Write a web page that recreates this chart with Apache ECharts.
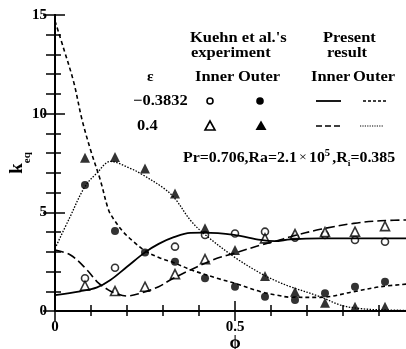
<!DOCTYPE html>
<html><head><meta charset="utf-8">
<script src="https://cdn.jsdelivr.net/npm/echarts@6/dist/echarts.min.js"></script>
<style>html,body{margin:0;padding:0;background:#fff}#c{width:406px;height:349px}</style>
</head><body><div id="c"></div>
<script>
// Experimental positions (phi)
const phiExp = [0.0833, 0.1667, 0.25, 0.3333, 0.4167, 0.5, 0.5833, 0.6667, 0.75, 0.8333, 0.9167];
// Kuehn et al. experiment
const expInnerNeg = [1.66, 2.19, null, 3.26, 3.85, 3.93, 4.02, 3.72, 3.85, 3.6, 3.51];   // eps=-0.3832 inner (open circle)
const expOuterNeg = [6.38, 4.05, 2.97, 2.5, 1.66, 1.23, 0.72, 0.56, 0.9, 1.23, 1.48];    // eps=-0.3832 outer (filled circle)
const expInnerPos = [1.28, 1.01, 1.23, 1.87, 2.63, null, 3.68, 3.9, 4.0, 4.02, 4.3];     // eps=0.4 inner (open triangle)
const expOuterPos = [7.76, 7.81, 7.22, 5.96, 4.19, 3.09, 1.77, 0.98, 0.42, 0.22, 0.22];  // eps=0.4 outer (filled triangle)

// Present result curves
const phiInnerNeg = [0, 0.07, 0.117, 0.154, 0.2, 0.25, 0.288, 0.33, 0.376, 0.413, 0.497, 0.571, 0.61, 0.654, 0.737, 0.83, 1.0];
const kInnerNeg   = [0.8, 1.0, 1.2, 1.57, 2.24, 2.97, 3.4, 3.74, 3.96, 3.97, 3.86, 3.6, 3.54, 3.63, 3.68, 3.68, 3.68];
const phiOuterNeg = [0, 0.024, 0.052, 0.075, 0.099, 0.126, 0.149, 0.165, 0.19, 0.219, 0.25, 0.29, 0.33, 0.376, 0.45, 0.5, 0.571, 0.617, 0.654, 0.737, 0.83, 0.904, 1.0];
const kOuterNeg   = [14.7, 13.3, 11.6, 9.7, 8.15, 6.63, 5.11, 4.6, 4.0, 3.5, 3.05, 2.7, 2.45, 2.1, 1.66, 1.4, 0.98, 0.8, 0.7, 0.69, 0.98, 1.23, 1.4];
const phiInnerPos = [0, 0.043, 0.089, 0.117, 0.149, 0.168, 0.2, 0.237, 0.288, 0.32, 0.376, 0.45, 0.497, 0.571, 0.617, 0.654, 0.737, 0.83, 0.904, 1.0];
const kInnerPos   = [3.09, 2.84, 2.08, 1.48, 1.06, 0.9, 0.76, 0.9, 1.23, 1.57, 2.08, 2.67, 2.92, 3.34, 3.56, 3.76, 4.14, 4.44, 4.57, 4.62];
const phiOuterPos = [0, 0.04, 0.083, 0.117, 0.154, 0.21, 0.237, 0.3, 0.333, 0.376, 0.413, 0.497, 0.571, 0.617, 0.654, 0.737, 0.793, 0.84, 0.9, 1.0];
const kOuterPos   = [3.17, 4.7, 6.3, 7.0, 7.58, 7.22, 6.97, 6.25, 5.7, 4.6, 3.93, 2.75, 1.91, 1.5, 1.23, 0.72, 0.3, 0.14, 0.06, 0.03];

const xTickLabels = {0: '0', 0.5: '0.5'};
const yTickLabels = [0, 5, 10, 15];

const SERIF = '"Liberation Serif", "Times New Roman", serif';

function pts(xs, ys) { const out = []; xs.forEach((x, i) => { if (ys[i] != null) out.push([x, ys[i]]); }); return out; }

const chart = echarts.init(document.getElementById('c'), null, {renderer: 'canvas'});

const axisCommon = {
  type: 'value',
  axisLine: {show: true, lineStyle: {color: '#000', width: 2}},
  splitLine: {show: false},
};

function txt(x, y, s, size, extra) {
  return Object.assign({
    type: 'text', x: x, y: y, scaleX: 1.1,
    style: {text: s, fill: '#000', font: 'bold ' + size + 'px ' + SERIF, textVerticalAlign: 'middle', textAlign: 'left'}
  }, extra || {});
}
function seg(x1, x2, y, dash, w) {
  return {type: 'line', shape: {x1: x1, y1: y, x2: x2, y2: y}, style: {stroke: '#000', lineWidth: w, lineDash: dash}};
}

chart.setOption({
  backgroundColor: '#fff',
  animation: false,
  grid: {left: 55, right: -9, top: 15, bottom: 38, containLabel: false, outerBoundsMode: 'none'},
  xAxis: [
    Object.assign({}, axisCommon, {
      min: 0, max: 1, interval: 0.5, position: 'bottom',
      axisTick: {show: true, inside: true, length: 10, lineStyle: {color: '#000', width: 1.5}},
      minorTick: {show: true, splitNumber: 5, length: 6, lineStyle: {color: '#000', width: 1.5}},
      axisLabel: {formatter: v => xTickLabels[v] || '', color: '#000', fontFamily: SERIF, fontWeight: 'bold', fontSize: 15, margin: 9},
      name: 'ϕ', nameLocation: 'middle', nameGap: 23, nameMoveOverlap: false,
      nameTextStyle: {color: '#000', fontFamily: SERIF, fontWeight: 'bold', fontSize: 18}
    }),
    Object.assign({}, axisCommon, {
      min: 0, max: 1, interval: 0.5, position: 'top',
      axisTick: {show: true, inside: true, length: 10, lineStyle: {color: '#000', width: 1.5}},
      minorTick: {show: true, splitNumber: 5, length: 5, lineStyle: {color: '#000', width: 1.5}},
      axisLabel: {show: false}
    })
  ],
  yAxis: [
    Object.assign({}, axisCommon, {
      min: 0, max: 15, interval: 5, position: 'left',
      axisTick: {show: true, inside: true, length: 10, lineStyle: {color: '#000', width: 1.5}},
      minorTick: {show: true, splitNumber: 5, length: 6, lineStyle: {color: '#000', width: 1.5}},
      axisLabel: {formatter: v => yTickLabels.indexOf(v) >= 0 ? String(v) : '', color: '#000', fontFamily: SERIF, fontWeight: 'bold', fontSize: 15, margin: 8},
      name: '{k|k}{s|eq}', nameLocation: 'middle', nameGap: 28, nameRotate: 90, nameMoveOverlap: false,
      nameTextStyle: {rich: {
        k: {fontFamily: SERIF, fontWeight: 'bold', fontSize: 19, color: '#000', lineHeight: 20},
        s: {fontFamily: SERIF, fontWeight: 'bold', fontSize: 11, color: '#000', lineHeight: 20, verticalAlign: 'bottom', padding: [0, 0, -6, 0]}
      }}
    }),
    Object.assign({}, axisCommon, {
      min: 0, max: 15, interval: 5, position: 'right',
      axisTick: {show: true, inside: true, length: 12, lineStyle: {color: '#000', width: 1.5}},
      minorTick: {show: true, splitNumber: 5, length: 9, lineStyle: {color: '#000', width: 1.5}},
      axisLabel: {show: false}
    })
  ],
  series: [
    {type: 'line', data: pts(phiInnerNeg, kInnerNeg), smooth: 0.35, symbol: 'none', lineStyle: {color: '#000', width: 1.8, type: 'solid'}},
    {type: 'line', data: pts(phiOuterNeg, kOuterNeg), smooth: 0.35, symbol: 'none', lineStyle: {color: '#000', width: 1.6, type: [4, 3]}},
    {type: 'line', data: pts(phiInnerPos, kInnerPos), smooth: 0.35, symbol: 'none', lineStyle: {color: '#000', width: 1.6, type: [9, 4]}},
    {type: 'line', data: pts(phiOuterPos, kOuterPos), smooth: 0.35, symbol: 'none', lineStyle: {color: '#000', width: 1.3, type: [1.5, 1.5]}},
    {type: 'scatter', data: pts(phiExp, expInnerNeg), symbol: 'circle', symbolSize: 7, itemStyle: {color: '#fff', borderColor: '#000', borderWidth: 1.6}},
    {type: 'scatter', data: pts(phiExp, expInnerPos), symbol: 'triangle', symbolSize: 9, itemStyle: {color: '#fff', borderColor: '#000', borderWidth: 1.6}},
    {type: 'scatter', data: pts(phiExp, expOuterNeg), symbol: 'circle', symbolSize: 8, itemStyle: {color: '#000'}},
    {type: 'scatter', data: pts(phiExp, expOuterPos), symbol: 'triangle', symbolSize: 10, itemStyle: {color: '#000'}}
  ],
  graphic: [
    txt(190, 38, "Kuehn et al.'s", 15),
    txt(191, 53, 'experiment', 15),
    txt(323, 38, 'Present', 15),
    txt(327, 53, 'result', 15),
    txt(147, 77, 'ε', 14),
    txt(195, 77, 'Inner', 15),
    txt(238, 77, 'Outer', 15),
    txt(311, 77, 'Inner', 15),
    txt(353, 77, 'Outer', 15),
    txt(133, 101, '−0.3832', 15),
    txt(137, 126, '0.4', 15),
    {type: 'circle', shape: {cx: 210, cy: 101, r: 3}, style: {fill: '#fff', stroke: '#000', lineWidth: 1.6}},
    {type: 'circle', shape: {cx: 260, cy: 101, r: 3.8}, style: {fill: '#000'}},
    {type: 'polygon', shape: {points: [[210, 121], [205, 130], [215, 130]]}, style: {fill: '#fff', stroke: '#000', lineWidth: 1.6}},
    {type: 'polygon', shape: {points: [[261, 120.5], [255.5, 130], [266.5, 130]]}, style: {fill: '#000'}},
    seg(316, 341, 101, null, 1.8),
    seg(363, 386, 101, [3, 2], 1.5),
    seg(316, 341, 126, [6, 3], 1.6),
    seg(360, 384, 126, [1.2, 1.2], 1.2),
    {
      type: 'text', x: 183, y: 158, scaleX: 1.06,
      style: {
        text: '{a|Pr=0.706,Ra=2.1}{m|×}{a|10}{p|5}{a|,R}{b|i}{a|=0.385}',
        textVerticalAlign: 'middle',
        rich: {
          a: {font: 'bold 15px ' + SERIF, fill: '#000', lineHeight: 20},
          m: {font: '13px ' + SERIF, fill: '#000', lineHeight: 20, padding: [0, 2, 0, 2]},
          p: {font: 'bold 10px ' + SERIF, fill: '#000', lineHeight: 20, verticalAlign: 'top', padding: [0, 2, 6, 0]},
          b: {font: 'bold 9px ' + SERIF, fill: '#000', lineHeight: 20, verticalAlign: 'bottom', padding: [5, 0, 0, 0]}
        }
      }
    }
  ]
});
</script></body></html>
